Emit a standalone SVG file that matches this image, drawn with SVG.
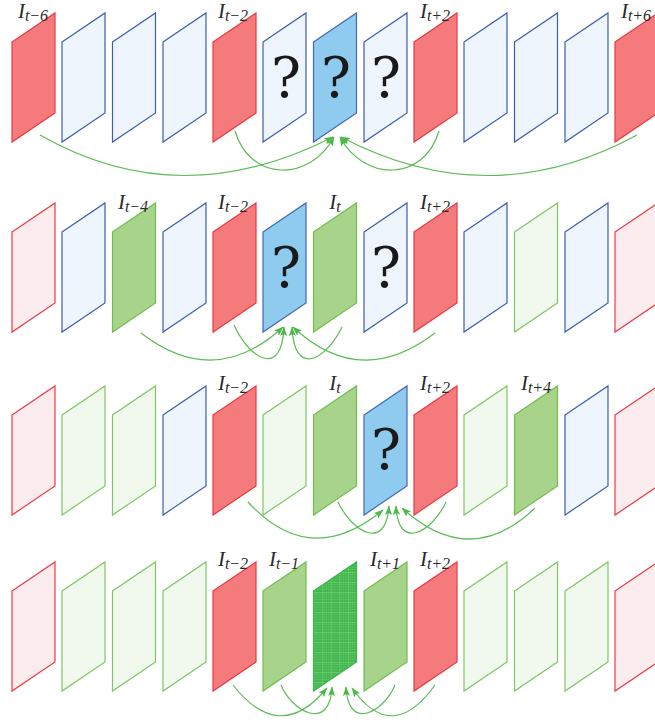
<svg xmlns="http://www.w3.org/2000/svg" xmlns:xlink="http://www.w3.org/1999/xlink" width="655" height="722" viewBox="0 0 655 722">
<style>
.red{fill:#f47a7c;stroke:#e83a40}
.lb{fill:#eef5fc;stroke:#3e5eae}
.bl{fill:#8fcaef;stroke:#4668b4}
.gr{fill:#a8d38b;stroke:#72be4f}
.lg{fill:#f1f8ee;stroke:#7dc765}
.pr{fill:#fdecee;stroke:#ec3b45}
.gd{fill:url(#grid);stroke:#3cb54a}
use{stroke-width:1.2}
.lab{font-family:"Liberation Serif",serif;font-style:italic;font-size:21px;fill:#2a2a2a;text-anchor:middle}
.sub{font-size:16px;font-style:italic}
.q{font-family:"DejaVu Serif","Liberation Serif",serif;font-size:56px;fill:#1a1a1a;text-anchor:middle}
.arr{fill:none;stroke:#5cbc55;stroke-width:1.2;marker-end:url(#ah)}
</style>
<defs>
<polygon id="pl" points="0,29 43,0 43,100 0,129"/>
<marker id="ah" markerUnits="userSpaceOnUse" markerWidth="12" markerHeight="8" refX="9" refY="3.5" orient="auto">
<path d="M0,0 L9.5,3.5 L0,7 L2,3.5 z" fill="#4cb848"/>
</marker>
<pattern id="grid" patternUnits="userSpaceOnUse" width="8.6" height="10">
<rect width="8.6" height="10" fill="#3cb54a"/>
<path d="M2.15,0V10M4.3,0V10M6.45,0V10M0,2.5H8.6M0,5H8.6M0,7.5H8.6" stroke="#6cc86c" stroke-width="0.4"/>
<path d="M0,0V10M0,0H8.6" stroke="#9adc9a" stroke-width="0.8"/>
</pattern>
</defs>

<g id="row1">
<g id="r1p0"><use href="#pl" x="12" y="13" class="red"/><text class="lab" x="33" y="18">I<tspan class="sub" dy="3">t−6</tspan></text></g>
<g id="r1p1"><use href="#pl" x="62" y="13" class="lb"/></g>
<g id="r1p2"><use href="#pl" x="112.5" y="13" class="lb"/></g>
<g id="r1p3"><use href="#pl" x="163" y="13" class="lb"/></g>
<g id="r1p4"><use href="#pl" x="213" y="13" class="red"/><text class="lab" x="233" y="18">I<tspan class="sub" dy="3">t−2</tspan></text></g>
<g id="r1p5"><use href="#pl" x="263" y="13" class="lb"/><text class="q" x="286" y="97">?</text></g>
<g id="r1p6"><use href="#pl" x="313.5" y="13" class="bl"/><text class="q" x="336" y="97">?</text></g>
<g id="r1p7"><use href="#pl" x="364" y="13" class="lb"/><text class="q" x="386" y="97">?</text></g>
<g id="r1p8"><use href="#pl" x="414" y="13" class="red"/><text class="lab" x="435" y="18">I<tspan class="sub" dy="3">t+2</tspan></text></g>
<g id="r1p9"><use href="#pl" x="464" y="13" class="lb"/></g>
<g id="r1p10"><use href="#pl" x="514.5" y="13" class="lb"/></g>
<g id="r1p11"><use href="#pl" x="565" y="13" class="lb"/></g>
<g id="r1p12"><use href="#pl" x="615" y="13" class="red"/><text class="lab" x="636" y="18">I<tspan class="sub" dy="3">t+6</tspan></text></g>
</g>

<g id="row2">
<g id="r2p0"><use href="#pl" x="12" y="203" class="pr"/></g>
<g id="r2p1"><use href="#pl" x="62" y="203" class="lb"/></g>
<g id="r2p2"><use href="#pl" x="112.5" y="203" class="gr"/><text class="lab" x="133" y="209">I<tspan class="sub" dy="3">t−4</tspan></text></g>
<g id="r2p3"><use href="#pl" x="163" y="203" class="lb"/></g>
<g id="r2p4"><use href="#pl" x="213" y="203" class="red"/><text class="lab" x="233" y="209">I<tspan class="sub" dy="3">t−2</tspan></text></g>
<g id="r2p5"><use href="#pl" x="263" y="203" class="bl"/><text class="q" x="286" y="287">?</text></g>
<g id="r2p6"><use href="#pl" x="313.5" y="203" class="gr"/><text class="lab" x="335" y="209">I<tspan class="sub" dy="3">t</tspan></text></g>
<g id="r2p7"><use href="#pl" x="364" y="203" class="lb"/><text class="q" x="386" y="287">?</text></g>
<g id="r2p8"><use href="#pl" x="414" y="203" class="red"/><text class="lab" x="435" y="209">I<tspan class="sub" dy="3">t+2</tspan></text></g>
<g id="r2p9"><use href="#pl" x="464" y="203" class="lb"/></g>
<g id="r2p10"><use href="#pl" x="514.5" y="203" class="lg"/></g>
<g id="r2p11"><use href="#pl" x="565" y="203" class="lb"/></g>
<g id="r2p12"><use href="#pl" x="615" y="203" class="pr"/></g>
</g>

<g id="row3">
<g id="r3p0"><use href="#pl" x="12" y="386" class="pr"/></g>
<g id="r3p1"><use href="#pl" x="62" y="386" class="lg"/></g>
<g id="r3p2"><use href="#pl" x="112.5" y="386" class="lg"/></g>
<g id="r3p3"><use href="#pl" x="163" y="386" class="lb"/></g>
<g id="r3p4"><use href="#pl" x="213" y="386" class="red"/><text class="lab" x="233" y="390">I<tspan class="sub" dy="3">t−2</tspan></text></g>
<g id="r3p5"><use href="#pl" x="263" y="386" class="lg"/></g>
<g id="r3p6"><use href="#pl" x="313.5" y="386" class="gr"/><text class="lab" x="335" y="390">I<tspan class="sub" dy="3">t</tspan></text></g>
<g id="r3p7"><use href="#pl" x="364" y="386" class="bl"/><text class="q" x="386" y="469">?</text></g>
<g id="r3p8"><use href="#pl" x="414" y="386" class="red"/><text class="lab" x="435" y="390">I<tspan class="sub" dy="3">t+2</tspan></text></g>
<g id="r3p9"><use href="#pl" x="464" y="386" class="lg"/></g>
<g id="r3p10"><use href="#pl" x="514.5" y="386" class="gr"/><text class="lab" x="536" y="390">I<tspan class="sub" dy="3">t+4</tspan></text></g>
<g id="r3p11"><use href="#pl" x="565" y="386" class="lb"/></g>
<g id="r3p12"><use href="#pl" x="615" y="386" class="pr"/></g>
</g>

<g id="row4">
<g id="r4p0"><use href="#pl" x="12" y="562" class="pr"/></g>
<g id="r4p1"><use href="#pl" x="62" y="562" class="lg"/></g>
<g id="r4p2"><use href="#pl" x="112.5" y="562" class="lg"/></g>
<g id="r4p3"><use href="#pl" x="163" y="562" class="lg"/></g>
<g id="r4p4"><use href="#pl" x="213" y="562" class="red"/><text class="lab" x="233" y="566">I<tspan class="sub" dy="3">t−2</tspan></text></g>
<g id="r4p5"><use href="#pl" x="263" y="562" class="gr"/><text class="lab" x="284" y="566">I<tspan class="sub" dy="3">t−1</tspan></text></g>
<g id="r4p6"><use href="#pl" x="313.5" y="562" class="gd"/></g>
<g id="r4p7"><use href="#pl" x="364" y="562" class="gr"/><text class="lab" x="385" y="566">I<tspan class="sub" dy="3">t+1</tspan></text></g>
<g id="r4p8"><use href="#pl" x="414" y="562" class="red"/><text class="lab" x="435" y="566">I<tspan class="sub" dy="3">t+2</tspan></text></g>
<g id="r4p9"><use href="#pl" x="464" y="562" class="lg"/></g>
<g id="r4p10"><use href="#pl" x="514.5" y="562" class="lg"/></g>
<g id="r4p11"><use href="#pl" x="565" y="562" class="lg"/></g>
<g id="r4p12"><use href="#pl" x="615" y="562" class="pr"/></g>
</g>

<g id="connectors">
<path class="arr" d="M40,135 Q180,215 333,137"/>
<path class="arr" d="M235,131 C250,182 310,182 334,137"/>
<path class="arr" d="M439,131 C424,182 364,182 340,137"/>
<path class="arr" d="M637,135 Q490,215 341,137"/>

<path class="arr" d="M141,333 Q215,390 283,327"/>
<path class="arr" d="M234,325 C250,360 282,378 284,327"/>
<path class="arr" d="M342,327 C326,360 294,378 292,327"/>
<path class="arr" d="M435,333 Q360,390 293,327"/>

<path class="arr" d="M248,502 Q310,570 383,510"/>
<path class="arr" d="M338,502 C352,532 386,552 389,506"/>
<path class="arr" d="M446,502 C432,532 398,552 396,506"/>
<path class="arr" d="M535,508 Q470,570 402,508"/>

<path class="arr" d="M233,685 Q280,745 327,688"/>
<path class="arr" d="M281,685 C292,712 330,732 332,687"/>
<path class="arr" d="M395,685 C384,712 348,732 346,687"/>
<path class="arr" d="M435,685 Q392,745 352,688"/>
</g>
</svg>
